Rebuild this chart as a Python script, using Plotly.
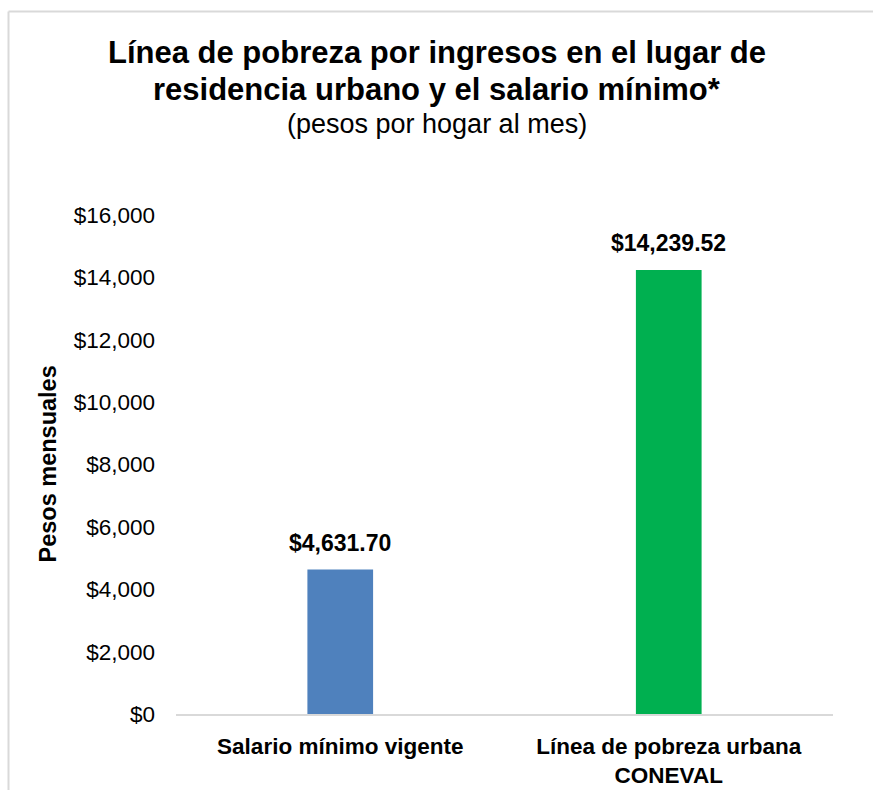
import plotly.graph_objects as go

categories = ["Salario mínimo vigente", "Línea de pobreza urbana<br>CONEVAL"]
values = [4631.70, 14239.52]
bar_colors = ["#4F81BD", "#00B050"]
tick_values = [0, 2000, 4000, 6000, 8000, 10000, 12000, 14000, 16000]

W, H = 873, 790
L, R, T, B = 176, 40, 215, 76
ph = H - T - B
pw = W - L - R

def py(p):
    return (H - B - p) / ph

def px(p):
    return (p - L) / pw

FONT = "Liberation Sans, Arial, sans-serif"

fig = go.Figure()
fig.add_trace(go.Bar(x=categories, y=values, marker=dict(color=bar_colors, line=dict(width=0)),
                     hoverinfo="skip"))

annotations = []
for c, v in zip(categories, values):
    annotations.append(dict(x=c, y=v, xref="x", yref="y", text=f"<b>${v:,.2f}</b>",
                            showarrow=False, yanchor="bottom", yshift=12,
                            font=dict(size=23, color="#000", family=FONT)))

annotations += [
    dict(x=px(436.5), y=py(52), xref="paper", yref="paper", showarrow=False,
         text="<b>Línea de pobreza por ingresos en el lugar de</b>", xanchor="center", yanchor="middle",
         font=dict(size=31, color="#000", family=FONT)),
    dict(x=px(436.5), y=py(89.5), xref="paper", yref="paper", showarrow=False,
         text="<b>residencia urbano y el salario mínimo*</b>", xanchor="center", yanchor="middle",
         font=dict(size=31, color="#000", family=FONT)),
    dict(x=px(436.5), y=py(123.5), xref="paper", yref="paper", showarrow=False,
         text="(pesos por hogar al mes)", xanchor="center", yanchor="middle",
         font=dict(size=27, color="#000", family=FONT)),
    dict(x=px(47), y=0.5, xref="paper", yref="paper", showarrow=False,
         text="<b>Pesos mensuales</b>", textangle=-90, xanchor="center", yanchor="middle",
         font=dict(size=23.5, color="#000", family=FONT)),
]

shapes = [
    dict(type="line", xref="paper", yref="paper", x0=px(8.5), x1=px(8.5), y0=-1, y1=py(11.5),
         line=dict(color="#D9D9D9", width=2)),
    dict(type="line", xref="paper", yref="paper", x0=px(8.5), x1=2, y0=py(11.5), y1=py(11.5),
         line=dict(color="#D9D9D9", width=2)),
]

fig.update_layout(
    width=W, height=H,
    margin=dict(l=L, r=R, t=T, b=B, pad=0, autoexpand=False),
    paper_bgcolor="white", plot_bgcolor="white",
    bargap=0.8,
    showlegend=False,
    annotations=annotations,
    shapes=shapes,
    font=dict(family=FONT, color="#000"),
)
fig.update_xaxes(showline=True, linecolor="#D9D9D9", linewidth=2, showgrid=False, zeroline=False,
                 tickfont=dict(size=22.5, color="#000", family=FONT), ticklabelstandoff=11,
                 tickprefix="<b>", ticksuffix="</b>", fixedrange=True, automargin=False)
fig.update_yaxes(range=[0, 16000], tickvals=tick_values, tickformat="$,.0f", showgrid=False,
                 zeroline=False, showline=False, tickfont=dict(size=22.5, color="#000", family=FONT),
                 ticklabelstandoff=20, fixedrange=True, automargin=False)

fig.write_html("out.html", config={"displayModeBar": False})
